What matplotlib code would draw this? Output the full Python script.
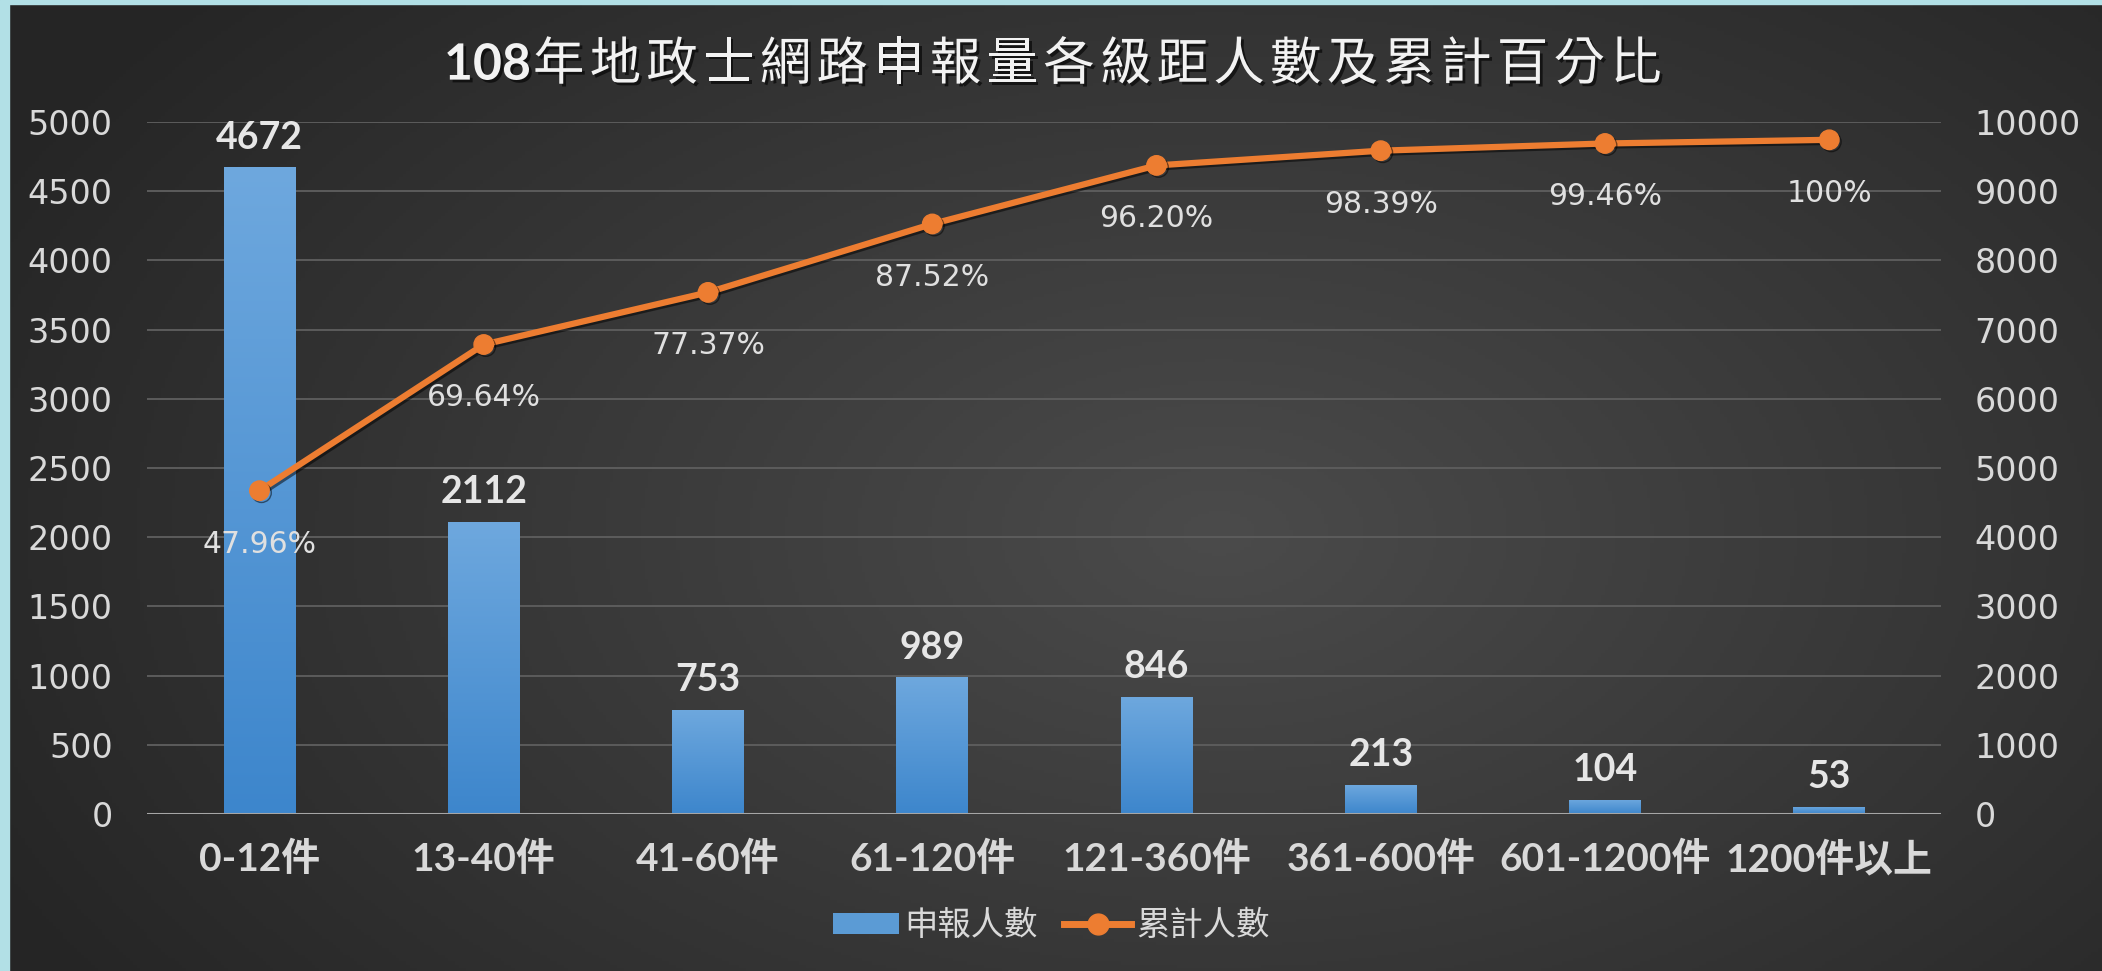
import numpy as np
import matplotlib
matplotlib.use("Agg")
import matplotlib.pyplot as plt
import matplotlib.patheffects as pe
from matplotlib.patches import Rectangle
from matplotlib.lines import Line2D
from matplotlib.patches import Patch

# ---- data ----
categories = ["0-12件", "13-40件", "41-60件", "61-120件", "121-360件", "361-600件", "601-1200件", "1200件以上"]
counts = [4672, 2112, 753, 989, 846, 213, 104, 53]
cumulative = [4672, 6784, 7537, 8526, 9372, 9585, 9689, 9742]
pct_labels = ["47.96%", "69.64%", "77.37%", "87.52%", "96.20%", "98.39%", "99.46%", "100%"]
left_ticks = [0, 500, 1000, 1500, 2000, 2500, 3000, 3500, 4000, 4500, 5000]
right_ticks = [0, 1000, 2000, 3000, 4000, 5000, 6000, 7000, 8000, 9000, 10000]
title_num = "108"
title_rest = "年地政士網路申報量各級距人數及累計百分比"
legend_labels = ["申報人數", "累計人數"]

CJK = "Noto Sans CJK TC"
NUM = ["DejaVu Sans", CJK]
BOLD = ["Lato", CJK, "DejaVu Sans"]
plt.rcParams["font.family"] = [CJK, "DejaVu Sans"]

W, H, DPI = 2102, 971, 100
fig = plt.figure(figsize=(W / DPI, H / DPI), dpi=DPI)

# background radial gradient
bg = fig.add_axes([0, 0, 1, 1], zorder=-10)
yy, xx = np.mgrid[0:1:300j, 0:1:600j]
cx, cy = 0.58, 0.55
r = np.sqrt(((xx - cx) * 1.3) ** 2 + ((yy - cy) * 1.0) ** 2)
v = np.clip(r / 0.85, 0, 1)
light = np.array([0x4b, 0x4b, 0x4b]) / 255
dark = np.array([0x25, 0x25, 0x25]) / 255
img = light[None, None, :] * (1 - v[..., None]) + dark[None, None, :] * v[..., None]
bg.imshow(img, extent=[0, 1, 0, 1], aspect="auto", origin="upper")
bg.set_xlim(0, 1); bg.set_ylim(0, 1)
bg.axis("off")

# cyan frame (top and left)
cyan = "#b2e0e6"
fig.patches.append(Rectangle((0, 0), 9 / W, 1, transform=fig.transFigure, color=cyan, zorder=5))
fig.patches.append(Rectangle((0, 1 - 4 / H), 1, 4 / H, transform=fig.transFigure, color=cyan, zorder=5))

ax = fig.add_axes([0.0701, 0.1617, 0.8535, 0.7127])
ax.set_facecolor("none")
ax2 = ax.twinx()
ax2.set_facecolor("none")

x = np.arange(len(categories))

# grid
for t in left_ticks[1:]:
    ax.axhline(t, color="#5c5c5c", lw=1.4, zorder=0)
ax.axhline(0, color="#a6a6a6", lw=2.2, zorder=3)

bars = ax.bar(x, counts, width=0.32, color="#5b9bd5", zorder=2, linewidth=0)
grad = np.linspace(0, 1, 256)[:, None]
cmap = matplotlib.colors.LinearSegmentedColormap.from_list("b", ["#3d86cc", "#6ea8de"])
for b in bars:
    x0, y0 = b.get_x(), b.get_y()
    im = ax.imshow(grad, extent=[x0, x0 + b.get_width(), y0, y0 + b.get_height()],
                   origin="lower", cmap=cmap, aspect="auto", zorder=2)
    im.set_clip_path(b)
ax.set_xlim(-0.5, len(categories) - 0.5)
ax.set_ylim(0, 5000)
ax2.set_ylim(0, 10000)

for xi, c in zip(x, counts):
    ax.annotate(str(c), (xi, c), xytext=(0, 9), textcoords="offset points",
                ha="center", va="bottom", fontsize=27, fontweight="bold",
                color="#e6e6e6", family=BOLD, zorder=6)

ax2.plot(x, cumulative, color="#ed7d31", lw=4.5, marker="o", markersize=14,
         zorder=4, path_effects=[pe.SimpleLineShadow(offset=(1.5, -1.5), alpha=0.5), pe.Normal()])
for xi, c, lab in zip(x, cumulative, pct_labels):
    ax2.annotate(lab, (xi, c), xytext=(0, -28), textcoords="offset points",
                 ha="center", va="top", fontsize=21.5, color="#e0e0e0", family=NUM, zorder=6)

# ticks
ax.set_yticks(left_ticks)
ax.set_yticklabels([str(t) for t in left_ticks], fontsize=24, color="#d9d9d9", family=NUM)
ax2.set_yticks(right_ticks)
ax2.set_yticklabels([str(t) for t in right_ticks], fontsize=24, color="#d9d9d9", family=NUM)
ax.tick_params(axis="y", length=0, pad=25)
ax2.tick_params(axis="y", length=0, pad=24)
ax.set_xticks(x)
ax.set_xticklabels(categories, fontsize=28, fontweight="bold", color="#d9d9d9", family=BOLD)
ax.tick_params(axis="x", length=0, pad=19)
for a in (ax, ax2):
    for s in a.spines.values():
        s.set_visible(False)

# title with letter spacing
shadow = [pe.SimplePatchShadow(offset=(2, -2), shadow_rgbFace="black", alpha=0.6), pe.Normal()]
fig.text(0.2526, 0.918, title_num, ha="right", va="baseline", fontsize=36, fontweight="bold",
         color="#f2f2f2", family=BOLD, path_effects=shadow)
pitch = 56.7 / W
for i, ch in enumerate(title_rest):
    fig.text(0.2526 + 2 / W + i * pitch, 0.918, ch, ha="left", va="baseline", fontsize=37,
             color="#f2f2f2", family=[CJK], path_effects=shadow)

# legend
handles = [Patch(facecolor="#5b9bd5", edgecolor="none"),
           Line2D([0], [0], color="#ed7d31", lw=5, marker="o", markersize=15)]
leg = fig.legend(handles, legend_labels, loc="center", bbox_to_anchor=(0.5, 0.047), ncol=2,
                 frameon=False, fontsize=24, handlelength=2.0, handleheight=0.6,
                 columnspacing=0.8, handletextpad=0.15, labelcolor="#d9d9d9")

fig.savefig("out.png", dpi=DPI)
